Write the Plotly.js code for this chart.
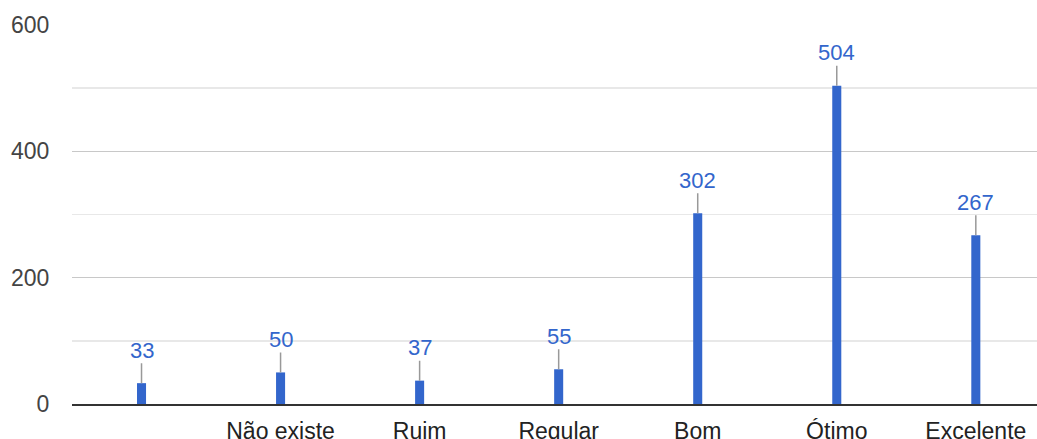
<!DOCTYPE html>
<html>
<head>
<meta charset="utf-8">
<script src="https://cdn.plot.ly/plotly-3.0.1.min.js"></script>
<style>html,body{margin:0;padding:0;background:#fff;}#chart{width:1037px;height:439px;}</style>
</head>
<body>
<div id="chart"></div>
<script>
const categories = ["", "Não existe", "Ruim", "Regular", "Bom", "Ótimo", "Excelente"];
const values = [33, 50, 37, 55, 302, 504, 267];
const yTicks = [0, 200, 400, 600];

const xs = categories.map((c, i) => i);

const trace = {
  type: 'bar',
  x: xs,
  y: values,
  width: 0.065,
  marker: {color: '#3366cc'},
  hoverinfo: 'skip'
};

const annotations = values.map((v, i) => ({
  x: xs[i], y: v, xref: 'x', yref: 'y',
  text: String(v),
  showarrow: true, arrowhead: 0, arrowwidth: 1.5, arrowcolor: '#999999',
  ax: 0, ay: -33, standoff: 0,
  font: {family: 'Arial, Liberation Sans, sans-serif', size: 22, color: '#3366cc'},
  borderpad: 0
}));

const layout = {
  width: 1037, height: 439,
  margin: {l: 72, r: 0, t: 25, b: 35},
  paper_bgcolor: '#ffffff', plot_bgcolor: '#ffffff',
  showlegend: false,
  font: {family: 'Arial, Liberation Sans, sans-serif'},
  xaxis: {
    range: [-0.5, 6.44],
    tickmode: 'array', tickvals: xs, ticktext: categories,
    showgrid: false, zeroline: false,
    showline: true, linecolor: '#333333', linewidth: 2,
    ticks: 'outside', ticklen: 5, tickcolor: 'rgba(0,0,0,0)',
    tickfont: {size: 23, color: '#222222'},
    fixedrange: true
  },
  yaxis: {
    range: [0, 600],
    tickmode: 'array', tickvals: yTicks,
    showgrid: true, gridcolor: '#c8c8c8', gridwidth: 1.6,
    minor: {dtick: 100, tick0: 0, showgrid: true, gridcolor: '#e8e8e8', gridwidth: 1.6, ticks: ''},
    zeroline: false, showline: false,
    ticks: 'outside', ticklen: 17, tickcolor: 'rgba(0,0,0,0)',
    tickfont: {size: 23, color: '#444444'},
    fixedrange: true
  },
  annotations: annotations
};

Plotly.newPlot('chart', [trace], layout, {displayModeBar: false, staticPlot: true});
</script>
</body>
</html>
